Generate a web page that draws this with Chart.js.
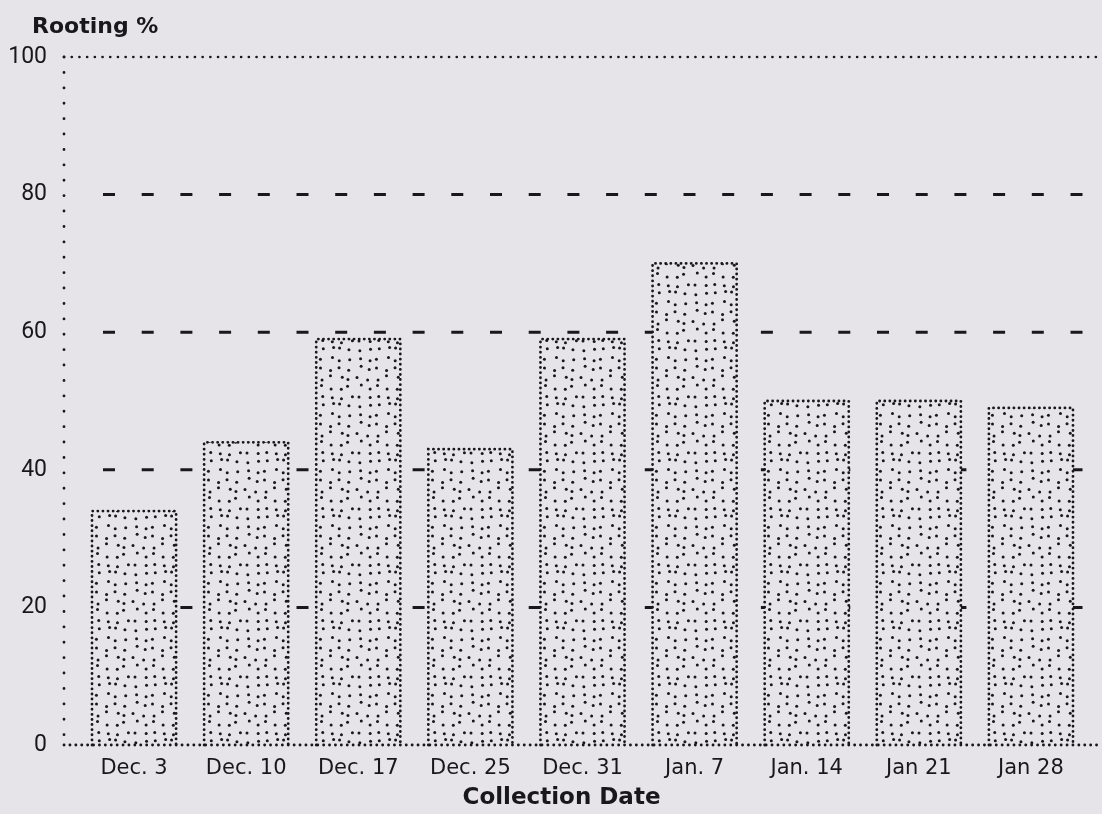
<!DOCTYPE html>
<html>
<head>
<meta charset="utf-8">
<script src="https://cdn.jsdelivr.net/npm/chart.js@4.4.1/dist/chart.umd.min.js"></script>
<style>
  html, body { margin: 0; padding: 0; background: #e7e4e9; }
  #wrap { width: 1102px; height: 814px; }
</style>
</head>
<body>
<div id="wrap"><canvas id="rootingChart" width="1102" height="814"></canvas></div>
<script>
// data
const collectionDates = ['Dec. 3', 'Dec. 10', 'Dec. 17', 'Dec. 25', 'Dec. 31', 'Jan. 7', 'Jan. 14', 'Jan 21', 'Jan 28'];
const rootingPct = [34, 44, 59, 43, 59, 70, 50, 50, 49];
const yTicks = [0, 20, 40, 60, 80, 100];
const dashedLevels = [20, 40, 60, 80];

const BG = '#e7e4e9';
const INK = '#18181c';

// stippled fill used by the bars (jittered grid of dots, opaque)
function makeStipple() {
  const size = 56, cells = 6, step = size / cells;
  const c = document.createElement('canvas');
  c.width = size; c.height = size;
  const g = c.getContext('2d');
  g.fillStyle = BG;
  g.fillRect(0, 0, size, size);
  g.fillStyle = INK;
  let s = 11;
  const next = () => (s = (s * 9301 + 49297) % 233280) / 233280;
  for (let i = 0; i < cells; i++) {
    for (let j = 0; j < cells; j++) {
      const x = i * step + 2 + next() * (step - 4);
      const y = j * step + 2 + next() * (step - 4);
      g.beginPath();
      g.arc(x, y, 1.5, 0, Math.PI * 2);
      g.fill();
    }
  }
  return g.createPattern(c, 'repeat');
}

function dotted(ctx, x1, y1, x2, y2, gap, width) {
  ctx.save();
  ctx.strokeStyle = INK;
  ctx.lineWidth = width;
  ctx.lineCap = 'round';
  ctx.setLineDash([0.1, gap]);
  ctx.beginPath();
  ctx.moveTo(x1, y1);
  ctx.lineTo(x2, y2);
  ctx.stroke();
  ctx.restore();
}

// axes frame + dashed grid, drawn behind the bars
const frame = {
  id: 'frame',
  beforeDraw(chart) {
    const ctx = chart.ctx;
    ctx.save();
    ctx.fillStyle = BG;
    ctx.fillRect(0, 0, chart.width, chart.height);
    ctx.restore();
  },
  beforeDatasetsDraw(chart) {
    const ctx = chart.ctx;
    const area = chart.chartArea;
    const y = chart.scales.y;
    const axisX = area.left - 14;

    ctx.save();
    ctx.strokeStyle = INK;
    ctx.lineWidth = 3;
    ctx.setLineDash([12, 26.7]);
    dashedLevels.forEach(v => {
      const py = y.getPixelForValue(v);
      ctx.beginPath();
      ctx.moveTo(area.left + 25, py);
      ctx.lineTo(area.right - 4, py);
      ctx.stroke();
    });
    ctx.restore();

    dotted(ctx, axisX, y.getPixelForValue(100), axisX, y.getPixelForValue(0), 15.3, 2.8);
    dotted(ctx, axisX, y.getPixelForValue(100), chart.width, y.getPixelForValue(100), 7.6, 2.6);
  },
  afterDatasetsDraw(chart) {
    const ctx = chart.ctx;
    const area = chart.chartArea;
    const y = chart.scales.y;

    // dotted bar outlines
    chart.getDatasetMeta(0).data.forEach(bar => {
      const p = bar.getProps(['x', 'y', 'base', 'width'], true);
      const l = p.x - p.width / 2, r = p.x + p.width / 2;
      ctx.save();
      ctx.strokeStyle = INK;
      ctx.lineWidth = 2.8;
      ctx.lineCap = 'round';
      ctx.setLineDash([0.1, 5]);
      ctx.beginPath();
      ctx.moveTo(l, p.base);
      ctx.lineTo(l, p.y);
      ctx.lineTo(r, p.y);
      ctx.lineTo(r, p.base);
      ctx.stroke();
      ctx.restore();
    });

    const zero = y.getPixelForValue(0);
    dotted(ctx, area.left - 14, zero, chart.width, zero, 5.8, 2.8);
  },
  afterDraw(chart) {
    const ctx = chart.ctx;
    const area = chart.chartArea;
    ctx.save();
    ctx.fillStyle = INK;
    ctx.font = 'bold 22px "DejaVu Sans"';
    ctx.textAlign = 'left';
    ctx.textBaseline = 'middle';
    ctx.fillText('Rooting %', 32, 27);
    ctx.font = 'bold 23px "DejaVu Sans"';
    ctx.textAlign = 'center';
    ctx.fillText('Collection Date', (area.left + area.right) / 2 - 21, 798);
    ctx.restore();
  }
};

new Chart(document.getElementById('rootingChart').getContext('2d'), {
  type: 'bar',
  data: {
    labels: collectionDates,
    datasets: [{
      data: rootingPct,
      backgroundColor: makeStipple(),
      borderWidth: 0,
      categoryPercentage: 1,
      barPercentage: 0.75
    }]
  },
  options: {
    responsive: false,
    animation: false,
    layout: { padding: { top: 57, right: 15, left: 0, bottom: 0 } },
    plugins: { legend: { display: false }, tooltip: { enabled: false } },
    scales: {
      x: {
        grid: { display: false, drawTicks: false },
        border: { display: false },
        ticks: {
          color: INK,
          font: { family: 'DejaVu Sans', size: 21 },
          padding: 11,
          maxRotation: 0,
          autoSkip: false
        },
        afterFit: s => { s.height = 69; }
      },
      y: {
        min: 0,
        max: 100,
        afterBuildTicks: s => { s.ticks = yTicks.map(v => ({ value: v })); },
        grid: { display: false, drawTicks: false },
        border: { display: false },
        ticks: {
          color: INK,
          font: { family: '"Liberation Sans Narrow", Roboto', size: 23 },
          padding: 31
        },
        afterFit: s => { s.width = 78; }
      }
    }
  },
  plugins: [frame]
});
</script>
</body>
</html>
